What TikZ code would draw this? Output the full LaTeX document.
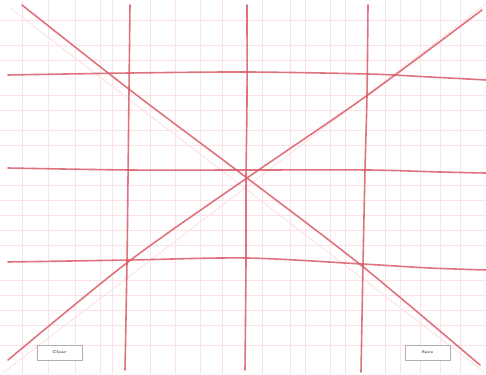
\documentclass[tikz,border=0pt]{standalone}
\usepackage{tikz}
\usetikzlibrary{positioning}

\definecolor{inkred}{RGB}{218,92,104}
\definecolor{gridpink}{RGB}{252,226,230}
\definecolor{btngray}{RGB}{175,175,175}

\begin{document}
\begin{tikzpicture}[x=1pt,y=-1pt,
    stroke/.style={inkred,line width=1.6pt,line cap=round,opacity=.85},
    faint/.style={gridpink,line width=.9pt},
    button/.style={draw=btngray,line width=.8pt,minimum width=45pt,minimum height=15pt,inner sep=0pt,font=\fontsize{4}{4}\selectfont\bfseries,text=black!75}]
    \useasboundingbox[fill=white] (0,0) rectangle (486,374);

    % light grid
    \foreach \x in {22,48,75,100,112,150,175,200,222,262,290,305,330,345,385,400,420,440,460}
        \draw[faint] (\x,0) -- (\x,374);
    \foreach \y in {20,45,60,95,110,130,145,185,200,215,230,245,280,295,310,325,345}
        \draw[faint] (0,\y) -- (486,\y);
    \draw[faint] (10,8) -- (484,372);
    \draw[faint] (4,372) -- (486,4);

    % hand drawn strokes
    \draw[stroke] plot[smooth] coordinates {(130,5) (129,90) (128,180) (127,262) (125,370)};
    \draw[stroke] plot[smooth] coordinates {(247,5) (247,100) (246,178) (246,260) (245,370)};
    \draw[stroke] plot[smooth] coordinates {(368,5) (367,95) (365,170) (363,265) (361,372)};
    \draw[stroke] plot[smooth] coordinates {(8,75) (130,73) (247,72) (368,74) (430,77) (486,80)};
    \draw[stroke] plot[smooth] coordinates {(8,168) (130,170) (247,170) (368,170) (440,172) (486,173)};
    \draw[stroke] plot[smooth] coordinates {(8,262) (130,260) (247,258) (362,264) (430,268) (486,270)};
    \draw[stroke] plot[smooth] coordinates {(22,5) (130,90) (247,178) (362,266) (480,365)};
    \draw[stroke] plot[smooth] coordinates {(8,360) (128,262) (247,178) (365,97) (482,10)};

    % buttons
    \node[button,fill=white] (clear) at (59.5,352.5) {Clear};
    \node[button,fill=white] (save) at (427.5,352.5) {Save};
\end{tikzpicture}
\end{document}
